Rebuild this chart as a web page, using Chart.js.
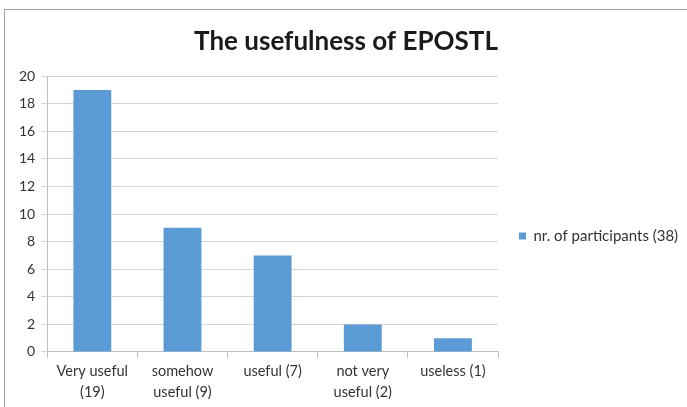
<!DOCTYPE html>
<html>
<head>
<meta charset="utf-8">
<script src="https://cdn.jsdelivr.net/npm/chart.js@4"></script>
<style>
  html, body { margin: 0; padding: 0; background: #fff; }
  #frame {
    position: absolute; left: 4px; top: 9px; width: 683px; height: 398px;
    border-left: 1px solid #a0a0a0; border-top: 1px solid #a0a0a0;
    box-sizing: border-box;
  }
</style>
</head>
<body>
<div id="frame"><canvas id="myChart"></canvas></div>
<script>
// values
var categories = [['Very useful', '(19)'], ['somehow', 'useful (9)'], ['useful (7)'], ['not very', 'useful (2)'], ['useless (1)']];
var participants = [19, 9, 7, 2, 1];
var seriesName = 'nr. of participants (38)';
var yTicks = [0, 2, 4, 6, 8, 10, 12, 14, 16, 18, 20];

function renderChart(){
	var ctx = document.getElementById('myChart').getContext('2d');
	var chart = new Chart(ctx, {
		type: 'bar',
		data: {
			labels: categories,
			datasets: [{
				label: seriesName,
				data: participants,
				backgroundColor: '#5b9bd5',
				borderWidth: 0,
				categoryPercentage: 1,
				barPercentage: 0.42
			}]
		},
		options: {
			responsive: true,
			maintainAspectRatio: false,
			animation: false,
			layout: { padding: { left: 8, right: 8, top: 8, bottom: 1 } },
			plugins: {
				title: {
					display: true,
					text: 'The usefulness of EPOSTL',
					color: '#1a1a1a',
					font: { family: 'Lato', size: 26, weight: 'bold' },
					padding: { top: 8, bottom: 19 }
				},
				legend: {
					position: 'right',
					maxWidth: 181,
					// blank title only pushes the item down a bit
					title: { display: true, text: ' ', font: { size: 15 }, padding: { top: 30, bottom: 0 } },
					labels: {
						boxWidth: 7, boxHeight: 7,
						color: '#333',
						font: { family: 'Lato', size: 15 },
						padding: 21
					}
				},
				tooltip: { enabled: false }
			},
			scales: {
				x: {
					grid: { offset: true, drawOnChartArea: false, tickLength: 6, color: '#bfbfbf' },
					border: { color: '#bfbfbf' },
					ticks: { color: '#333', font: { family: 'Lato', size: 14.5, lineHeight: 1.45 }, maxRotation: 0, padding: 3 }
				},
				y: {
					min: 0, max: 20,
					afterBuildTicks: function(scale){ scale.ticks = yTicks.map(function(v){ return { value: v }; }); },
					grid: { color: '#d4d4d4', tickLength: 6 },
					border: { color: '#bfbfbf' },
					ticks: { color: '#333', font: { family: 'Lato', size: 14 }, padding: 6 }
				}
			}
		}
	});
}
renderChart();
</script>
</body>
</html>
